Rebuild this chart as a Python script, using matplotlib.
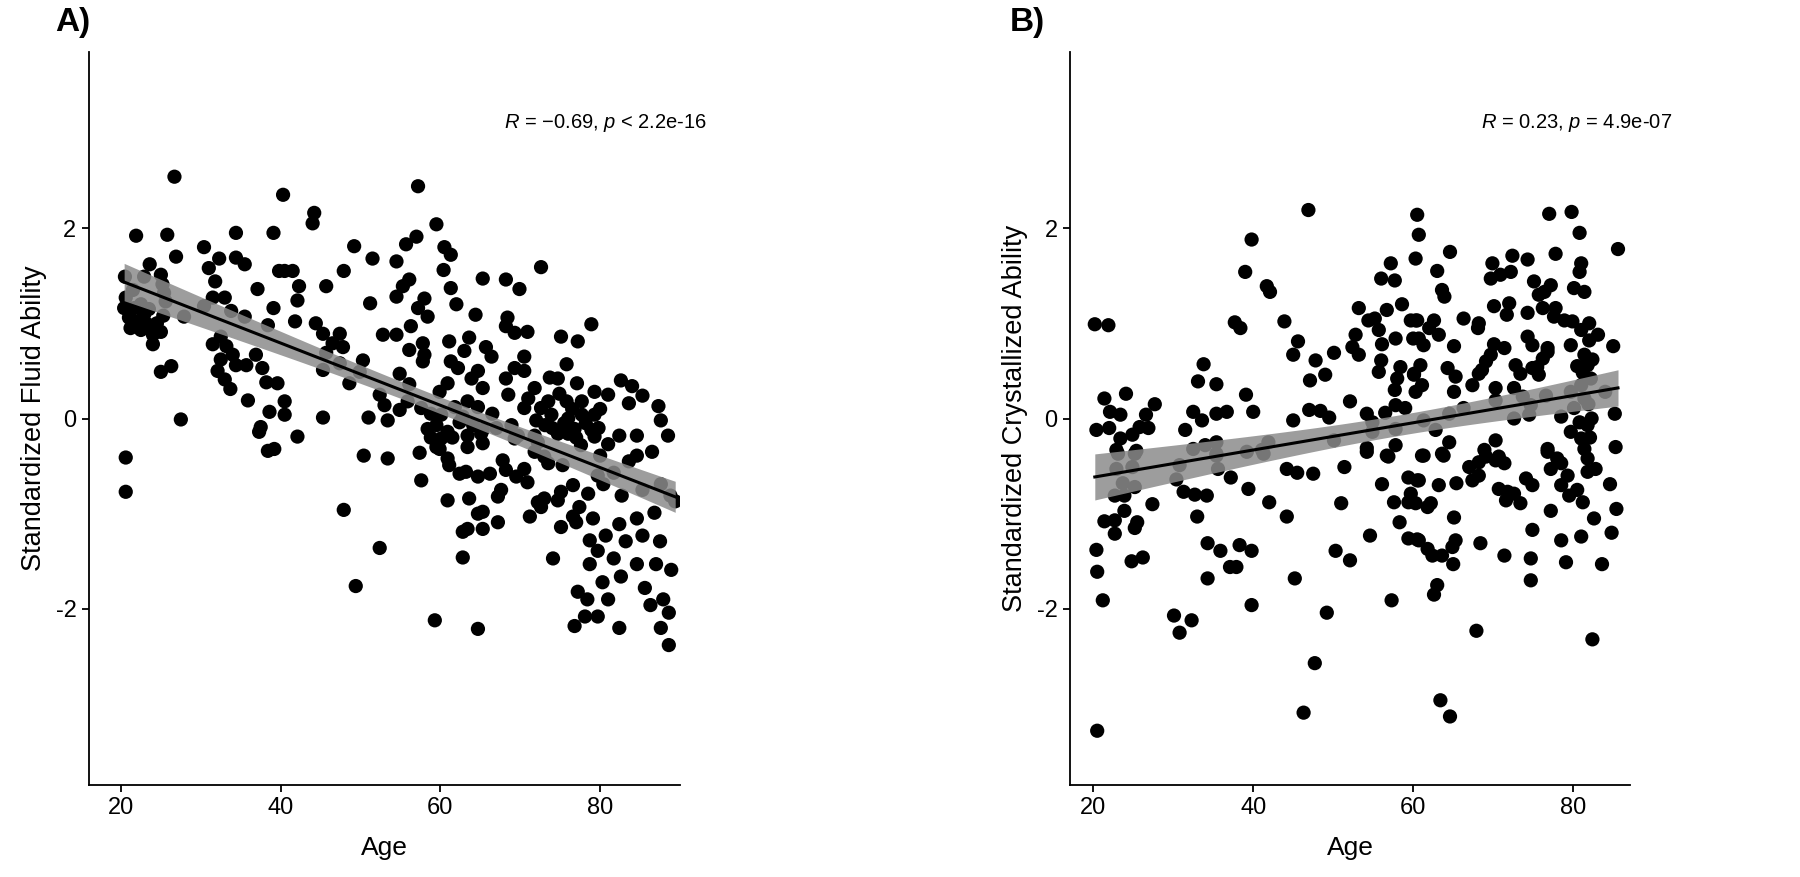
import numpy as np
import matplotlib
matplotlib.use("Agg")
import matplotlib.pyplot as plt

plt.rcParams['font.family'] = ['Liberation Sans', 'DejaVu Sans']
plt.rcParams['mathtext.fontset'] = 'custom'
plt.rcParams['mathtext.it'] = 'Liberation Sans:italic'
plt.rcParams['mathtext.rm'] = 'Liberation Sans'

# ---- Panel A: fluid ability (age, score) ----
fluid_pts = [
(26.7,2.54),(21.9,1.92),(25.8,1.93),(34.4,1.95),(39.1,1.95),(30.4,1.80),(26.9,1.70),(32.3,1.68),(34.4,1.69),(35.5,1.62),
(31.0,1.58),(23.6,1.62),(22.9,1.49),(20.5,1.49),(25.0,1.51),(25.2,1.41),(25.4,1.32),(25.6,1.23),(31.8,1.44),(37.1,1.36),(39.8,1.55),
(20.6,1.27),(20.4,1.16),(21.7,1.16),(21.0,1.06),(22.1,1.02),(22.9,1.09),(23.3,0.99),(22.5,0.93),(24.0,0.88),(25.0,0.91),(25.3,1.08),
(24.0,0.78),(27.9,1.07),(21.5,1.35),(22.5,1.20),(23.5,1.15),(24.5,1.00),(21.2,0.95),
(30.4,1.18),(31.5,1.27),(33.0,1.27),(33.8,1.13),(35.5,1.07),(38.4,0.98),(39.1,1.16),
(32.5,0.86),(31.5,0.78),(33.2,0.76),(32.5,0.62),(34.0,0.67),(34.4,0.56),(35.7,0.56),(36.9,0.67),(37.7,0.53),(32.1,0.50),(33.0,0.41),
(33.7,0.31),(38.2,0.38),(39.6,0.37),(35.9,0.19),(38.6,0.07),(37.5,-0.09),(27.5,-0.01),(25.0,0.49),(26.3,0.55),
(57.2,2.44),(40.3,2.35),(44.2,2.16),(44.0,2.05),(49.2,1.81),(51.5,1.68),(54.5,1.65),(55.7,1.83),(57.0,1.91),(59.5,2.04),(47.9,1.55),
(40.5,1.55),(41.5,1.55),(42.3,1.39),(45.7,1.39),(42.1,1.24),(55.3,1.39),(56.1,1.46),(54.5,1.28),(58.0,1.26),(57.2,1.16),(58.4,1.07),
(51.2,1.21),(56.3,0.97),(57.8,0.79),(58.0,0.67),(57.8,0.60),(56.1,0.72),(52.8,0.88),(54.5,0.88),(41.8,1.02),(44.4,1.00),(45.3,0.89),
(47.4,0.89),(46.5,0.79),(47.8,0.75),(45.7,0.69),(47.4,0.58),(45.3,0.51),(50.3,0.61),(49.9,0.49),(48.6,0.37),(54.9,0.47),(56.1,0.36),
(52.4,0.25),(53.0,0.14),(55.9,0.18),(54.9,0.09),(57.6,0.11),(58.8,0.05),(40.5,0.18),(40.5,0.04),(45.3,0.01),(51.0,0.01),(53.4,-0.02),
(42.1,-0.19),(58.4,-0.11),(59.5,-0.07),
(60.5,1.80),(61.3,1.72),(60.4,1.56),(72.6,1.59),(65.3,1.47),(68.2,1.46),(69.9,1.36),(61.3,1.37),(62.0,1.20),(64.4,1.09),(68.4,1.06),
(68.2,0.97),(69.3,0.90),(70.9,0.91),(78.9,0.99),(75.1,0.86),(77.2,0.81),(61.1,0.81),(63.6,0.85),(63.0,0.71),(65.7,0.75),(66.4,0.65),
(61.3,0.60),(62.2,0.53),(64.7,0.50),(63.9,0.42),(65.3,0.32),(70.5,0.65),(69.3,0.53),(70.5,0.50),(75.8,0.57),(68.2,0.42),(73.7,0.43),
(74.7,0.42),(77.1,0.37),(60.9,0.37),(59.9,0.28),(68.5,0.25),(71.8,0.32),(71.0,0.21),(70.5,0.11),(74.9,0.26),(75.8,0.18),(77.7,0.18),
(79.3,0.28),(63.4,0.18),(64.7,0.12),(61.8,0.12),(60.1,0.04),(62.4,-0.04),(64.1,-0.07),(72.6,0.11),(73.9,0.04),(73.1,-0.07),(76.0,0.00),
(77.7,0.04),(79.3,0.04),(76.8,-0.11),(78.9,-0.12),(68.9,-0.07),(69.7,-0.18),(65.3,-0.12),(63.4,-0.18),(60.9,-0.14),(71.8,-0.18),(74.7,-0.16),
(72.0,-0.02),(74.0,-0.10),(75.5,-0.05),(77.0,-0.20),(78.2,-0.05),(79.8,-0.10),(73.5,0.18),(76.5,0.10),(67.0,-0.10),(66.5,0.05),
(62.8,0.02),(61.5,-0.20),
(20.6,-0.41),(20.6,-0.77),(38.4,-0.34),(39.2,-0.32),(37.3,-0.14),
(50.4,-0.39),(53.4,-0.42),(57.4,-0.36),(57.6,-0.65),(47.9,-0.96),(52.4,-1.36),(49.4,-1.76),(59.3,-2.12),(58.8,-0.20),(59.5,-0.30),
(60.1,-0.21),(59.9,-0.32),(60.9,-0.42),(61.1,-0.49),(63.4,-0.30),(65.3,-0.26),(65.1,-0.16),(62.4,-0.58),(63.2,-0.56),(64.7,-0.61),
(66.2,-0.58),(67.8,-0.44),(68.2,-0.54),(69.3,-0.21),(69.5,-0.61),(70.5,-0.53),(70.9,-0.67),(71.8,-0.35),(72.2,-0.25),(73.0,-0.40),
(73.5,-0.47),(75.3,-0.49),(76.0,-0.16),(77.6,-0.28),(79.3,-0.19),(79.7,-0.60),(78.5,-0.79),(76.6,-0.70),(75.1,-0.77),(74.7,-0.86),
(73.0,-0.84),(72.2,-0.88),(72.6,-0.93),(67.6,-0.75),(67.2,-0.82),(63.6,-0.84),(60.9,-0.86),(65.3,-0.98),(64.7,-1.00),(63.4,-1.16),
(62.8,-1.19),(65.3,-1.16),(67.2,-1.09),(71.2,-1.03),(75.1,-1.14),(76.6,-1.03),(77.4,-0.93),(77.0,-1.09),(79.1,-1.05),(78.7,-1.28),
(79.7,-1.39),(78.7,-1.53),(74.1,-1.47),(62.8,-1.46),(77.2,-1.82),(64.7,-2.21),
(82.6,0.40),(84.0,0.34),(81.0,0.25),(83.6,0.16),(80.0,0.10),(85.3,0.24),(87.3,0.13),(87.6,-0.02),(88.5,-0.18),(82.4,-0.18),
(81.0,-0.27),(84.6,-0.18),(83.6,-0.45),(81.7,-0.57),(80.4,-0.69),(82.7,-0.81),(85.3,-0.75),(87.6,-0.69),(88.8,-0.81),(89.4,-0.87),
(86.8,-0.99),(84.6,-1.05),(82.4,-1.11),(80.7,-1.23),(83.2,-1.29),(85.3,-1.23),(87.5,-1.29),(81.7,-1.47),(84.6,-1.53),(87.0,-1.53),
(88.9,-1.59),(82.6,-1.66),(80.3,-1.72),(85.6,-1.78),(87.9,-1.90),(86.3,-1.96),(81.0,-1.90),(88.6,-2.04),(79.7,-2.08),(82.4,-2.20),
(87.6,-2.20),(88.6,-2.38),(78.1,-2.08),(76.8,-2.18),(78.4,-1.90),(84.6,-0.39),(80.0,-0.39),(86.5,-0.35),
]
fluid_age = [p[0] for p in fluid_pts]
fluid_score = [p[1] for p in fluid_pts]

# ---- Panel B: crystallized ability (age, score) ----
cryst_pts = [
(39.8,1.88),(39.0,1.54),(20.2,0.99),(21.9,0.98),(37.7,1.01),(38.4,0.95),(33.8,0.57),(33.1,0.39),(35.4,0.36),(39.1,0.25),
(21.4,0.21),(24.1,0.26),(22.1,0.07),(23.4,0.04),(27.7,0.15),(26.6,0.04),(20.4,-0.12),(22.0,-0.10),(23.4,-0.21),(24.9,-0.17),
(25.8,-0.09),(26.9,-0.10),(22.9,-0.33),(25.4,-0.34),(32.5,0.07),(33.6,-0.02),(31.5,-0.12),(35.4,0.05),(36.7,0.07),(32.5,-0.32),
(34.0,-0.28),(35.4,-0.25),(35.4,-0.39),(40.0,0.07),(39.2,-0.35),
(46.9,2.19),(41.7,1.39),(42.1,1.33),(60.5,2.14),(60.7,1.93),(60.3,1.68),(57.2,1.63),(56.0,1.47),(57.7,1.45),(53.2,1.16),(56.7,1.14),
(58.6,1.20),(43.9,1.02),(54.4,1.03),(55.2,1.05),(55.7,0.93),(59.7,1.03),(60.3,1.03),(52.8,0.88),(57.8,0.84),(56.1,0.78),(60.0,0.84),
(45.6,0.81),(45.0,0.67),(50.1,0.69),(47.8,0.61),(52.4,0.75),(53.2,0.67),(56.0,0.61),(55.7,0.49),(58.4,0.54),(58.0,0.42),(57.7,0.30),
(60.1,0.46),(49.0,0.46),(47.1,0.40),(52.1,0.18),(47.0,0.09),(48.4,0.08),(49.5,0.01),(45.0,-0.02),(54.2,0.05),(54.9,-0.04),(54.9,-0.14),
(56.5,0.06),(57.8,0.14),(59.0,0.11),(57.8,-0.11),(41.9,-0.25),(41.1,-0.33),(50.1,-0.23),(54.2,-0.31),(57.8,-0.28),(56.7,-0.39),
(77.0,2.15),(79.8,2.17),(80.8,1.95),(64.6,1.75),(77.8,1.73),(69.9,1.63),(72.4,1.71),(74.3,1.67),(63.0,1.55),(69.7,1.47),(70.9,1.51),
(72.2,1.54),(81.0,1.63),(80.8,1.54),(80.1,1.37),(81.4,1.33),(63.6,1.35),(63.9,1.28),(75.1,1.44),(77.2,1.40),(76.4,1.33),(75.7,1.30),
(70.1,1.18),(72.0,1.21),(71.7,1.09),(74.3,1.11),(76.2,1.16),(77.8,1.16),(77.6,1.07),(78.9,1.03),(79.9,1.02),(81.0,0.93),(82.0,1.00),
(60.5,1.03),(62.6,1.03),(62.0,0.95),(63.2,0.88),(60.7,0.84),(61.3,0.77),(66.3,1.05),(68.2,1.00),(68.1,0.95),(65.1,0.76),(70.1,0.78),
(71.4,0.74),(69.7,0.67),(69.1,0.60),(68.6,0.51),(68.2,0.47),(74.3,0.86),(74.9,0.77),(76.8,0.70),(76.2,0.63),(76.8,0.74),(79.7,0.77),
(81.4,0.67),(82.0,0.82),(60.9,0.56),(60.1,0.47),(61.1,0.35),(60.3,0.28),(64.3,0.53),(65.3,0.44),(65.1,0.28),(72.8,0.56),(73.4,0.47),
(74.9,0.53),(75.7,0.46),(75.5,0.54),(67.4,0.35),(70.3,0.32),(70.3,0.19),(72.6,0.32),(73.7,0.23),(76.6,0.24),(79.7,0.28),(81.0,0.35),
(81.8,0.56),(82.2,0.42),(81.4,0.21),(66.3,0.11),(74.7,0.14),(74.5,0.04),(72.6,0.00),(78.5,0.02),(80.1,0.11),(80.8,-0.04),(79.7,-0.14),
(81.8,-0.07),(81.0,-0.21),(61.3,-0.02),(62.8,-0.12),(64.5,0.05),(64.5,-0.25),(63.6,-0.37),(61.3,-0.39),(70.3,-0.23),(68.9,-0.33),
(70.7,-0.40),(76.8,-0.32),(78.0,-0.42),(81.4,-0.32),(81.8,-0.42),
(81.9,0.15),(82.3,0.00),(81.2,0.48),(82.4,0.62),(80.5,0.55),(82.1,-0.20),
(23.1,-0.37),(25.2,-0.37),(22.9,-0.53),(24.9,-0.51),(23.7,-0.68),(25.2,-0.72),(22.7,-0.81),(23.9,-0.81),(27.4,-0.90),(23.9,-0.97),
(21.4,-1.08),(22.7,-1.07),(22.7,-1.21),(25.2,-1.15),(25.5,-1.09),(20.4,-1.38),(20.5,-1.61),(21.2,-1.91),(24.8,-1.50),(26.2,-1.46),
(30.8,-0.49),(30.4,-0.64),(31.3,-0.77),(32.7,-0.80),(34.2,-0.81),(33.0,-1.03),(35.4,-0.37),(35.6,-0.53),(37.2,-0.62),(39.4,-0.74),
(34.3,-1.31),(35.9,-1.39),(38.3,-1.33),(39.8,-1.39),(37.1,-1.56),(37.9,-1.56),(34.3,-1.68),(39.8,-1.96),(30.1,-2.07),(32.3,-2.12),
(30.8,-2.25),(20.5,-3.28),
(41.3,-0.37),(44.2,-0.53),(45.5,-0.57),(47.5,-0.58),(51.4,-0.51),(54.2,-0.35),(56.9,-0.40),(59.4,-0.62),(60.5,-0.65),(56.1,-0.69),
(57.6,-0.88),(59.4,-0.88),(59.7,-0.79),(42.0,-0.88),(44.2,-1.03),(51.0,-0.89),(58.3,-1.09),(54.6,-1.23),(59.4,-1.26),(60.5,-1.27),
(50.3,-1.39),(52.1,-1.49),(45.2,-1.68),(49.2,-2.04),(57.3,-1.91),(47.7,-2.57),(46.3,-3.09),
(61.1,-0.39),(63.8,-0.39),(67.0,-0.51),(68.2,-0.46),(69.1,-0.40),(70.3,-0.44),(71.4,-0.47),(60.7,-0.65),(63.2,-0.70),(65.4,-0.68),
(67.4,-0.65),(68.2,-0.60),(76.8,-0.35),(77.2,-0.53),(78.5,-0.47),(81.8,-0.56),(79.3,-0.60),(78.5,-0.70),(79.5,-0.81),
(80.5,-0.75),(81.2,-0.88),(70.7,-0.74),(71.8,-0.77),(72.6,-0.79),(71.6,-0.86),(73.4,-0.89),(74.1,-0.63),(74.9,-0.70),(60.3,-0.89),
(61.8,-0.93),(62.2,-0.89),(65.1,-1.04),(77.2,-0.97),(82.6,-1.05),(74.9,-1.17),(60.7,-1.28),(61.8,-1.37),(62.4,-1.44),(63.6,-1.44),
(64.9,-1.35),(65.3,-1.28),(65.0,-1.53),(68.4,-1.31),(71.4,-1.44),(74.7,-1.47),(74.7,-1.70),(78.5,-1.28),(81.0,-1.24),(79.1,-1.51),
(63.0,-1.75),(62.6,-1.85),(67.9,-2.23),(63.4,-2.96),(64.6,-3.13),
(85.6,1.78),(83.1,0.88),(85.0,0.76),(84.0,0.28),(85.2,0.05),(85.3,-0.30),(82.8,-0.53),(84.6,-0.69),(85.4,-0.95),(83.6,-1.53),
(84.8,-1.20),(82.4,-2.32),
]
cryst_age = [p[0] for p in cryst_pts]
cryst_score = [p[1] for p in cryst_pts]

panel_letters = ["A)", "B)"]
y_labels = ["Standardized Fluid Ability", "Standardized Crystallized Ability"]
stat_labels = ["$\\it{R}$ = \u22120.69, $\\it{p}$ < 2.2e-16", "$\\it{R}$ = 0.23, $\\it{p}$ = 4.9e-07"]
x_ticks = [20, 40, 60, 80]
y_ticks = [-2, 0, 2]

W, H = 1800, 877
fig = plt.figure(figsize=(W / 100, H / 100), dpi=100)

axes_px = [(89, 680), (1070, 1630)]
x_limits = [(16.0, 90.0), (17.1, 87.1)]
stat_x = [80.7, 80.4]
top_px, bot_px = 52, 785


def add_panel(ax, x, y, ylab, stat, sx, xlim):
    x = np.asarray(x, float)
    y = np.asarray(y, float)
    ax.scatter(x, y, s=105, color="black", edgecolors="none", zorder=2)
    b, a = np.polyfit(x, y, 1)
    xs = np.linspace(x.min(), x.max(), 200)
    n = len(x)
    resid = y - (a + b * x)
    s = np.sqrt(np.sum(resid ** 2) / (n - 2))
    se = s * np.sqrt(1 / n + (xs - x.mean()) ** 2 / np.sum((x - x.mean()) ** 2))
    yfit = a + b * xs
    ax.fill_between(xs, yfit - 1.97 * se, yfit + 1.97 * se, color="#8c8c8c", alpha=0.85,
                    linewidth=0, zorder=3)
    ax.plot(xs, yfit, color="black", linewidth=2.2, zorder=4)
    ax.set_xlim(*xlim)
    ax.set_ylim(-3.85, 3.85)
    ax.set_xticks(x_ticks)
    ax.set_yticks(y_ticks)
    ax.set_yticklabels([str(t) for t in y_ticks])
    for sp in ["top", "right"]:
        ax.spines[sp].set_visible(False)
    for sp in ["left", "bottom"]:
        ax.spines[sp].set_linewidth(1.3)
    ax.tick_params(axis="both", length=5, width=1.3, labelsize=17, colors="black", pad=4)
    ax.set_xlabel("Age", fontsize=19, labelpad=12)
    ax.set_ylabel(ylab, fontsize=19.5, labelpad=6)
    ax.text(sx, 3.1, stat, fontsize=14.5, ha="center", va="center")


for i, (x, y) in enumerate([(fluid_age, fluid_score), (cryst_age, cryst_score)]):
    l, r = axes_px[i]
    ax = fig.add_axes([l / W, 1 - bot_px / H, (r - l) / W, (bot_px - top_px) / H])
    add_panel(ax, x, y, y_labels[i], stat_labels[i], stat_x[i], x_limits[i])
    fig.text([55, 1010][i] / W, 1 - 22 / H, panel_letters[i], fontsize=24, fontweight="bold",
             ha="left", va="center")

fig.savefig("out.png", dpi=100)
